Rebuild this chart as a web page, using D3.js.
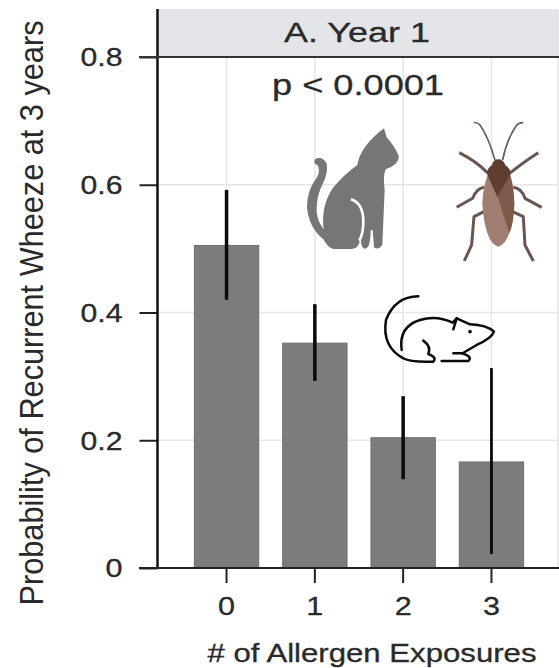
<!DOCTYPE html>
<html>
<head>
<meta charset="utf-8">
<script src="https://cdnjs.cloudflare.com/ajax/libs/d3/7.8.5/d3.min.js"></script>
<style>
html,body{margin:0;padding:0;background:#fff}
svg{display:block}
text{font-family:"Liberation Sans",Arial,sans-serif;fill:#2a2a2a}
</style>
</head>
<body>
<div id="chart"></div>
<script>
const categories = ["0","1","2","3"];
const probabilities = [0.505,0.352,0.204,0.166];
const ciLower = [0.42,0.293,0.139,0.022];
const ciUpper = [0.592,0.413,0.269,0.313];
const yTicks = [0,0.2,0.4,0.6,0.8];
const yTickLabels = ["0","0.2","0.4","0.6","0.8"];

const svg = d3.select("#chart").append("svg").attr("width",559).attr("height",668);
const x = d3.scaleBand().domain(categories).range([182.4,535.6]).paddingInner(0.26).paddingOuter(0.13);
const y = d3.scaleLinear().domain([0,0.8]).range([568,57]);
const cx = c => x(c)+x.bandwidth()/2;
const left = 157.5, right = 558;

// strip
svg.append("rect").attr("x",left).attr("y",9).attr("width",right-left).attr("height",48).attr("fill","#e3e5e8");
svg.append("line").attr("x1",right).attr("x2",right).attr("y1",9).attr("y2",568).attr("stroke","#d8d8d8").attr("stroke-width",1);

// grid
svg.append("g").selectAll("line").data(yTicks.slice(1,4)).join("line")
  .attr("x1",left).attr("x2",right).attr("y1",d=>y(d)).attr("y2",d=>y(d)).attr("stroke","#e6e6e6").attr("stroke-width",1.5);
svg.append("g").selectAll("line").data(categories).join("line")
  .attr("x1",cx).attr("x2",cx).attr("y1",57).attr("y2",568).attr("stroke","#e6e6e6").attr("stroke-width",1.5);

// bars
svg.append("g").selectAll("rect").data(categories).join("rect")
  .attr("x",d=>x(d)+0.5).attr("width",x.bandwidth()-1)
  .attr("y",(d,i)=>y(probabilities[i])).attr("height",(d,i)=>y(0)-y(probabilities[i]))
  .attr("fill","#7b7c7d").attr("stroke","#6e6e6e").attr("stroke-width",1);

// error bars
svg.append("g").selectAll("line").data(categories).join("line")
  .attr("x1",cx).attr("x2",cx).attr("y1",(d,i)=>y(ciUpper[i])).attr("y2",(d,i)=>y(ciLower[i]))
  .attr("stroke","#0a0a0a").attr("stroke-width",(d,i)=>i===3?2.8:3.5);

// axes
const yAxis = d3.axisLeft(y).tickValues(yTicks).tickFormat((d,i)=>yTickLabels[i]).tickSize(18).tickPadding(17);
const yG = svg.append("g").attr("transform",`translate(${left},0)`).call(yAxis);
yG.select(".domain").remove();
yG.selectAll("line").attr("stroke","#222").attr("stroke-width",2);
yG.selectAll("text").attr("font-size",26).attr("fill","#2a2a2a").attr("dy","0.34em")
  .attr("stroke","#2a2a2a").attr("stroke-width",0.3)
  .attr("textLength",(d,i)=>i===0?17:42).attr("lengthAdjust","spacingAndGlyphs");

const xAxis = d3.axisBottom(x).tickSize(15).tickPadding(14);
const xG = svg.append("g").attr("transform","translate(0,568)").call(xAxis);
xG.select(".domain").remove();
xG.selectAll("line").attr("stroke","#222").attr("stroke-width",2);
xG.selectAll("text").attr("font-size",26).attr("fill","#2a2a2a")
  .attr("stroke","#2a2a2a").attr("stroke-width",0.3)
  .attr("textLength",17).attr("lengthAdjust","spacingAndGlyphs");

svg.append("line").attr("x1",left).attr("x2",left).attr("y1",9).attr("y2",568).attr("stroke","#111").attr("stroke-width",2.5);
svg.append("line").attr("x1",139).attr("x2",559).attr("y1",568).attr("y2",568).attr("stroke","#222").attr("stroke-width",2.2);
svg.append("line").attr("x1",139).attr("x2",559).attr("y1",57).attr("y2",57).attr("stroke","#333").attr("stroke-width",2.2);

// text
const tx = (s,xp,yp,size,len)=>svg.append("text").text(s).attr("x",xp).attr("y",yp)
  .attr("font-size",size).attr("text-anchor","middle").attr("textLength",len).attr("lengthAdjust","spacingAndGlyphs")
  .attr("stroke","#2a2a2a").attr("stroke-width",0.3);
tx("A. Year 1",357,42,27,146);
tx("p < 0.0001",358,95,29,172);
tx("# of Allergen Exposures",372,662,26,329);
svg.append("text").text("Probability of Recurrent Wheeze at 3 years")
  .attr("transform","translate(43,313) rotate(-90) scale(0.93,1)").attr("text-anchor","middle")
  .attr("font-size",33);

// icons, drawn in the 3x crop coordinates
const icons = svg.append("g").attr("transform","translate(280,0) scale(0.3333)");
icons.append("path").attr("fill","#767676").attr("d",
 "M312 385 L320 412 Q345 440 357 470 Q352 498 318 507 Q308 525 314 570 L307 735 Q295 752 282 742 L278 690 L272 690 Q272 745 255 746 Q240 745 243 700 L240 720 Q236 746 215 747 L160 747 Q145 745 130 718 Q85 680 81 620 Q81 570 112 530 Q120 515 114 497 Q98 490 105 478 Q125 466 140 490 Q145 520 128 552 Q108 590 110 635 Q113 665 131 688 Q122 620 158 565 Q190 525 232 495 Q240 440 312 385 Z");
icons.append("path").attr("fill","none").attr("stroke","#fff").attr("stroke-width",8).attr("d","M213 598 Q250 610 250 665 Q250 700 238 722");
// cockroach
const antennae = "M645 480 Q625 410 600 375 Q590 366 582 368 M668 480 Q680 420 708 378 Q718 366 730 368";
const legs = "M622 518 Q590 485 538 458 M692 518 Q725 490 775 458 M612 562 Q590 565 578 595 L530 622 M700 562 Q725 565 735 595 L785 622 M612 635 L582 650 L575 735 L553 783 M698 635 L730 650 L735 735 L760 783";
icons.append("path").attr("fill","none").attr("stroke","#6f5a55").attr("stroke-width",5).attr("d",antennae);
icons.append("path").attr("fill","none").attr("stroke","#6a5550").attr("stroke-width",9).attr("stroke-linejoin","round").attr("d",legs);
icons.append("path").attr("fill","#a07f72").attr("d","M655 490 Q612 510 607 610 Q615 730 655 740 Q695 730 703 610 Q698 510 655 490 Z");
icons.append("path").attr("fill","#7d5a4c").attr("d","M680 505 Q700 530 703 610 Q702 670 688 700 L640 550 Z");
icons.append("path").attr("fill","#5f3d31").attr("d","M655 478 Q640 478 636 495 Q622 505 620 520 L652 590 L694 520 Q690 505 676 495 Q670 478 655 478 Z");
// mouse
const m = icons.append("g").attr("fill","none").attr("stroke","#0a0a0a").attr("stroke-width",7.5).attr("stroke-linecap","round").attr("stroke-linejoin","round");
m.append("path").attr("d","M415 889 Q345 890 318 960 Q305 1040 370 1075 Q390 1087 460 1085 Q472 1072 445 1062 Q455 1040 430 1022");
m.append("path").attr("d","M365 1050 Q355 980 420 960 Q470 945 518 968 L530 955 L570 973 Q620 975 642 995 Q635 1015 590 1035 L548 1060");
m.append("path").attr("d","M530 955 L520 988");
m.append("path").attr("d","M485 1083 L565 1083 Q580 1070 545 1060 L520 1060");
icons.append("circle").attr("cx",570).attr("cy",995).attr("r",5.5).attr("fill","#0a0a0a");
</script>
</body>
</html>
